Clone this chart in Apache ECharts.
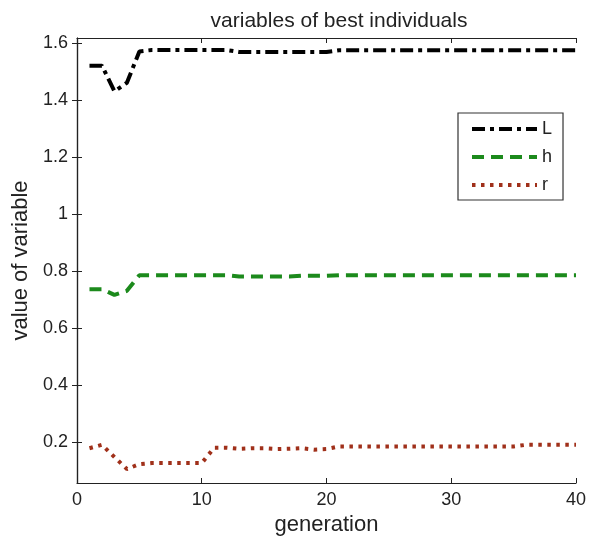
<!DOCTYPE html>
<html>
<head>
<meta charset="utf-8">
<script src="https://cdn.jsdelivr.net/npm/echarts@6/dist/echarts.min.js"></script>
<style>
  html, body { margin: 0; padding: 0; background: #fff; }
  #main { width: 589px; height: 541px; }
</style>
</head>
<body>
<div id="main"></div>
<script>
// generation numbers
var generations = [];
for (var g = 1; g <= 40; g++) generations.push(g);

var valuesL = [1.52, 1.52, 1.43, 1.46, 1.57, 1.575, 1.575, 1.575, 1.575, 1.575,
  1.575, 1.575, 1.568, 1.568, 1.568, 1.568, 1.568, 1.568, 1.568, 1.568,
  1.574, 1.574, 1.574, 1.574, 1.574, 1.574, 1.574, 1.574, 1.574, 1.574,
  1.574, 1.574, 1.574, 1.574, 1.574, 1.574, 1.574, 1.574, 1.574, 1.574];

var valuesH = [0.736, 0.736, 0.716, 0.73, 0.785, 0.785, 0.785, 0.785, 0.785, 0.785,
  0.785, 0.785, 0.78, 0.78, 0.78, 0.78, 0.78, 0.783, 0.783, 0.783,
  0.785, 0.785, 0.785, 0.785, 0.785, 0.785, 0.785, 0.785, 0.785, 0.785,
  0.785, 0.785, 0.785, 0.785, 0.785, 0.785, 0.785, 0.785, 0.785, 0.785];

var valuesR = [0.178, 0.19, 0.147, 0.105, 0.122, 0.126, 0.126, 0.126, 0.126, 0.126,
  0.18, 0.18, 0.176, 0.178, 0.178, 0.175, 0.176, 0.178, 0.173, 0.175,
  0.184, 0.184, 0.184, 0.184, 0.184, 0.184, 0.184, 0.184, 0.184, 0.184,
  0.184, 0.184, 0.184, 0.184, 0.184, 0.19, 0.19, 0.19, 0.19, 0.19];

var yTicks = [0.2, 0.4, 0.6, 0.8, 1, 1.2, 1.4, 1.6];

var fontFam = 'Liberation Sans, Arial, sans-serif';

function pairs(vals) {
  return vals.map(function (v, i) { return [generations[i], v]; });
}

var chart = echarts.init(document.getElementById('main'));
var option = {
  backgroundColor: '#fff',
  animation: false,
  title: {
    text: 'variables of best individuals',
    left: 334, top: 6, textAlign: 'center',
    textStyle: { fontFamily: fontFam, fontWeight: 'normal', fontSize: 21, color: '#222' }
  },
  legend: {
    orient: 'vertical',
    left: 458, top: 113,
    padding: [7, 11, 6, 12],
    itemWidth: 65, itemHeight: 14, itemGap: 10,
    borderColor: '#333', borderWidth: 1.2,
    backgroundColor: '#fff',
    itemStyle: { opacity: 0 },
    lineStyle: { width: 4 },
    textStyle: { fontFamily: fontFam, fontSize: 18, color: '#222' },
    data: ['L', 'h', 'r']
  },
  grid: { left: 77, right: 10, top: 38, bottom: 58 },
  xAxis: [{
    type: 'value', min: 0, max: 40, interval: 10,
    name: 'generation', nameLocation: 'middle', nameGap: 30,
    nameTextStyle: { fontFamily: fontFam, fontSize: 22, color: '#222' },
    axisLine: { lineStyle: { color: '#222', width: 1.2 } },
    axisTick: { inside: true, length: 5, lineStyle: { color: '#222' } },
    axisLabel: { fontFamily: fontFam, fontSize: 18, color: '#222', margin: 8 },
    splitLine: { show: false }
  }, {
    type: 'value', min: 0, max: 40, interval: 10, position: 'top',
    axisLine: { lineStyle: { color: '#222', width: 1.2 } },
    axisTick: { inside: true, length: 5, lineStyle: { color: '#222' } },
    axisLabel: { show: false },
    splitLine: { show: false }
  }],
  yAxis: [{
    type: 'value', min: 0.056, max: 1.617,
    name: 'value of variable', nameLocation: 'middle', nameGap: 44, nameRotate: 90,
    nameTextStyle: { fontFamily: fontFam, fontSize: 22, color: '#222' },
    axisLine: { show: true, lineStyle: { color: '#222', width: 1.2 } },
    axisTick: { show: true, inside: true, length: 5, customValues: yTicks, lineStyle: { color: '#222' } },
    axisLabel: { fontFamily: fontFam, fontSize: 18, color: '#222', margin: 9, customValues: yTicks },
    splitLine: { show: false }
  }, {
    type: 'value', min: 0.056, max: 1.617, position: 'right',
    axisLine: { show: true, lineStyle: { color: '#222', width: 1.2 } },
    axisTick: { show: true, inside: true, length: 5, customValues: yTicks, lineStyle: { color: '#222' } },
    axisLabel: { show: false },
    splitLine: { show: false }
  }],
  series: [{
    name: 'L', type: 'line', xAxisIndex: 0, yAxisIndex: 0,
    data: pairs(valuesL), symbol: 'none',
    lineStyle: { color: '#000', width: 4, type: [13, 5, 4, 5] },
    itemStyle: { color: '#000' }
  }, {
    name: 'h', type: 'line', xAxisIndex: 0, yAxisIndex: 0,
    data: pairs(valuesH), symbol: 'none',
    lineStyle: { color: '#1c8a1c', width: 4, type: [12, 7] },
    itemStyle: { color: '#1c8a1c' }
  }, {
    name: 'r', type: 'line', xAxisIndex: 0, yAxisIndex: 0,
    data: pairs(valuesR), symbol: 'none',
    lineStyle: { color: '#a0301a', width: 4, type: [3.5, 5.5] },
    itemStyle: { color: '#a0301a' }
  }]
};
chart.setOption(option);
</script>
</body>
</html>
